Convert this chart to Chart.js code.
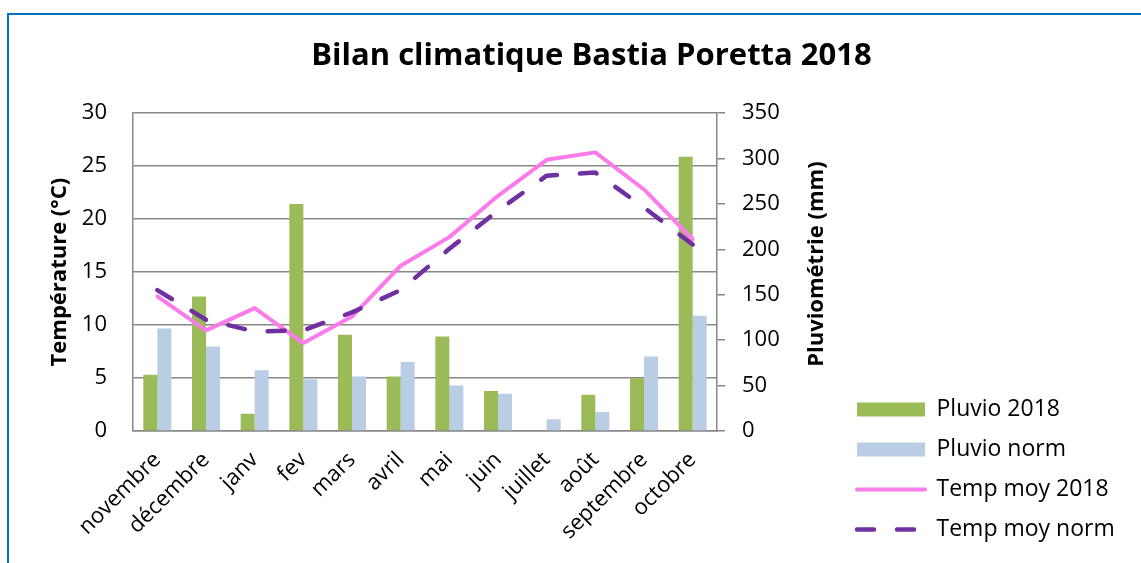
<!DOCTYPE html>
<html>
<head>
<meta charset="utf-8">
<script src="https://cdn.jsdelivr.net/npm/chart.js@4.4.1/dist/chart.umd.min.js"></script>
<style>
  html, body { margin: 0; padding: 0; background: #fff; overflow: hidden; }
  #wrap { position: relative; width: 1141px; height: 563px; overflow: hidden; }
  #frame { position: absolute; left: 7px; top: 13px; width: 1200px; height: 600px;
           border-left: 2px solid #0070C0; border-top: 2px solid #0070C0; box-sizing: border-box; }
  canvas { position: absolute; left: 0; top: 0; }
</style>
</head>
<body>
<div id="wrap">
  <div id="frame"></div>
  <canvas id="chart" width="1141" height="563"></canvas>
</div>
<script>
const months = ['novembre', 'décembre', 'janv', 'fev', 'mars', 'avril', 'mai', 'juin', 'juillet', 'août', 'septembre', 'octobre'];
const pluvio2018 = [62, 148, 19, 250, 106, 60, 104, 44, 0, 40, 58, 302];
const pluvioNorm = [113, 93, 67, 57, 60, 76, 50, 41, 13, 21, 82, 127];
const temp2018 = [12.7, 9.5, 11.6, 8.3, 10.8, 15.6, 18.3, 22.2, 25.6, 26.3, 22.8, 18.1];
const tempNorm = [13.3, 10.5, 9.4, 9.5, 11.2, 13.3, 17.2, 20.8, 24.1, 24.4, 21.1, 17.6];

const titleText = 'Bilan climatique Bastia Poretta 2018';
const leftTitle = 'Température (°C)';
const rightTitle = 'Pluviométrie (mm)';

const FONT = 'Open Sans';
const grey = '#878787';
const LEGEND_WIDTH = 303;

Chart.defaults.font.family = FONT;
Chart.defaults.color = '#000';

// legend on the right gets squeezed by the layout, give it a fixed width
const legendWidth = {
    id: 'legendWidth',
    beforeLayout(chart) {
        const legend = chart.legend;
        if (!legend || legend._fixedFit) return;
        const fit = legend.fit;
        legend.fit = function () {
            fit.call(this);
            this.width = LEGEND_WIDTH;
        };
        legend._fixedFit = true;
    },
};

// chart.js turns a right axis title top-down, here it reads bottom-up
const rightAxisTitle = {
    id: 'rightAxisTitle',
    afterDraw(chart) {
        const scale = chart.scales.y1;
        const ctx = chart.ctx;
        ctx.save();
        ctx.translate(scale.right - 23, (scale.top + scale.bottom) / 2 - 8);
        ctx.rotate(-Math.PI / 2);
        ctx.font = 'bold 22px "' + FONT + '"';
        ctx.fillStyle = '#000';
        ctx.textAlign = 'center';
        ctx.textBaseline = 'middle';
        ctx.fillText(rightTitle, 0, 0);
        ctx.restore();
    },
};

function legendLabels(chart) {
    const items = Chart.defaults.plugins.legend.labels.generateLabels(chart);
    items.forEach((item) => {
        const ds = chart.data.datasets[item.datasetIndex];
        if (ds.type === 'line') {
            item.strokeStyle = ds.borderColor;
            item.lineWidth = ds.borderWidth;
            item.lineDash = ds.borderDash || [];
            item.lineCap = ds.borderCapStyle;
        }
    });
    return items;
}

new Chart(document.getElementById('chart'), {
    type: 'bar',
    data: {
        labels: months,
        datasets: [
            {
                label: 'Pluvio 2018',
                data: pluvio2018,
                backgroundColor: '#9BBB59',
                borderWidth: 0,
                yAxisID: 'y1',
                order: 2,
                pointStyle: 'rect',
                categoryPercentage: 0.575,
                barPercentage: 1,
            },
            {
                label: 'Pluvio norm',
                data: pluvioNorm,
                backgroundColor: '#B9CDE5',
                borderWidth: 0,
                yAxisID: 'y1',
                order: 2,
                pointStyle: 'rect',
                categoryPercentage: 0.575,
                barPercentage: 1,
            },
            {
                type: 'line',
                label: 'Temp moy 2018',
                data: temp2018,
                borderColor: '#FA7BEA',
                backgroundColor: '#FA7BEA',
                borderWidth: 4,
                borderCapStyle: 'round',
                borderJoinStyle: 'round',
                pointRadius: 0,
                tension: 0,
                yAxisID: 'y',
                order: 1,
                pointStyle: 'line',
            },
            {
                type: 'line',
                label: 'Temp moy norm',
                data: tempNorm,
                borderColor: '#7030A0',
                backgroundColor: '#7030A0',
                borderWidth: 4.5,
                borderDash: [17, 23],
                borderCapStyle: 'round',
                borderJoinStyle: 'round',
                pointRadius: 0,
                tension: 0,
                yAxisID: 'y',
                order: 0,
                pointStyle: 'line',
            },
        ],
    },
    options: {
        responsive: false,
        animation: false,
        layout: { padding: { left: 40, right: -2, top: 8, bottom: 5 } },
        plugins: {
            tooltip: { enabled: false },
            title: {
                display: true,
                text: titleText,
                font: { family: FONT, size: 31, weight: 'bold' },
                color: '#000',
                padding: { top: 30, bottom: 38 },
            },
            legend: {
                position: 'right',
                align: 'end',
                labels: {
                    usePointStyle: true,
                    pointStyleWidth: 68,
                    boxHeight: 14,
                    padding: 17,
                    font: { family: FONT, size: 23 },
                    color: '#000',
                    generateLabels: legendLabels,
                    sort: (a, b) => a.datasetIndex - b.datasetIndex,
                },
            },
        },
        scales: {
            x: {
                grid: { display: true, drawOnChartArea: false, drawTicks: false },
                border: { color: grey, width: 1.5 },
                ticks: { maxRotation: 45, minRotation: 45, padding: 16, font: { size: 22 }, color: '#000' },
                afterFit: (scale) => { scale.height = 127; },
            },
            y: {
                position: 'left',
                min: 0,
                max: 30,
                ticks: { stepSize: 5, padding: 26, font: { size: 22 }, color: '#000' },
                grid: { color: grey, lineWidth: 1.5, drawTicks: false },
                border: { color: grey, width: 1.5 },
                title: { display: true, text: leftTitle, font: { size: 22, weight: 'bold' }, color: '#000', padding: { top: 7, bottom: 0 } },
                afterFit: (scale) => { scale.width = 93; },
            },
            y1: {
                position: 'right',
                min: 0,
                max: 350,
                ticks: { stepSize: 50, padding: 17, font: { size: 22 }, color: '#000' },
                grid: { drawOnChartArea: false, drawTicks: true, tickLength: 8, color: grey, lineWidth: 1.5 },
                border: { color: grey, width: 1.5 },
                afterFit: (scale) => { scale.width = 123; },
            },
        },
    },
    plugins: [legendWidth, rightAxisTitle],
});
</script>
</body>
</html>
